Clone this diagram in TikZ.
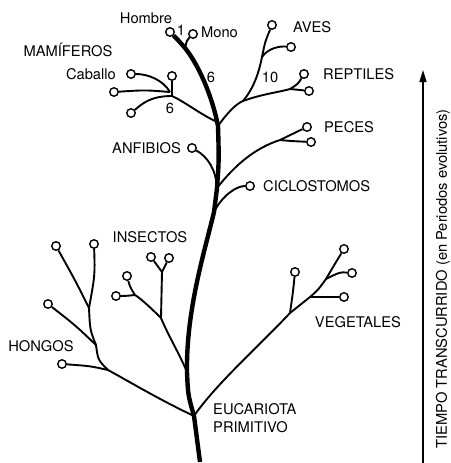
\documentclass[tikz,border=0pt]{standalone}
\usepackage{fontspec}
\setmainfont{TeX Gyre Heros}
\usepackage{tikz}
\usetikzlibrary{arrows.meta, positioning}

\tikzset{
  leaf/.style={circle, draw, fill=white, line width=1.4pt, inner sep=0pt, minimum size=8.5pt},
  branch/.style={line width=1.9pt},
  trunk/.style={line width=4.4pt, line join=round},
  lbl/.style={inner sep=0pt, font=\fontsize{14.7}{18}\selectfont},
}

\begin{document}
\begin{tikzpicture}[x=1pt, y=-1pt]
    \useasboundingbox (0,0) rectangle (450,463);

    % junctions
    \coordinate (base)  at (200,462);
    \coordinate (fE)    at (194,416);
    \coordinate (jIns)  at (187,372);
    \coordinate (jCic)  at (214,212);
    \coordinate (jPec)  at (217,188);
    \coordinate (fM)    at (218,126);
    \coordinate (jMam)  at (217,122);
    \coordinate (jMono) at (185,48);
    \coordinate (mA)    at (172,96);
    \coordinate (mB)    at (170,92);
    \coordinate (bR)    at (243,101);
    \coordinate (bA)    at (262,57);
    \coordinate (rJ)    at (290,89);
    \coordinate (pJ)    at (280,140);
    \coordinate (insA)  at (161,318);
    \coordinate (insB)  at (162,272);
    \coordinate (insC)  at (135,295);
    \coordinate (honA)  at (108,370);
    \coordinate (honB)  at (96,345);
    \coordinate (honC)  at (89,308);
    \coordinate (vegA)  at (290,313);
    \coordinate (vegB)  at (310,297);
    \coordinate (vegC)  at (326,279);

    % leaves
    \node[leaf] (hombre) at (170,32) {};
    \node[leaf] (mono)   at (193,34) {};
    \node[leaf] (aves1)  at (272,25) {};
    \node[leaf] (aves2)  at (291,47) {};
    \node[leaf] (rep1)   at (304,74) {};
    \node[leaf] (rep2)   at (309,91) {};
    \node[leaf] (mam1)   at (131,74) {};
    \node[leaf] (mam2)   at (114,92) {};
    \node[leaf] (mam3)   at (172,76) {};
    \node[leaf] (mam4)   at (131,113) {};
    \node[leaf] (anf)    at (192,148) {};
    \node[leaf] (pec1)   at (307,127) {};
    \node[leaf] (pec2)   at (311,142) {};
    \node[leaf] (cic)    at (250,186) {};
    \node[leaf] (ins1)   at (151,257) {};
    \node[leaf] (ins2)   at (169,258) {};
    \node[leaf] (ins3)   at (127,276) {};
    \node[leaf] (ins4)   at (116,296) {};
    \node[leaf] (hon1)   at (56,246) {};
    \node[leaf] (hon2)   at (94,244) {};
    \node[leaf] (hon3)   at (48,304) {};
    \node[leaf] (hon4)   at (62,364) {};
    \node[leaf] (veg1)   at (344,249) {};
    \node[leaf] (veg2)   at (352,273) {};
    \node[leaf] (veg3)   at (344,297) {};
    \node[leaf] (veg4)   at (295,272) {};

    % trunk
    \draw[trunk] (base) -- (fE)
        .. controls (188,395) .. (jIns)
        .. controls (186,310) and (205,250) .. (jCic)
        .. controls (216,200) .. (jPec)
        .. controls (219,160) .. (fM)
        .. controls (212,95) and (198,64) .. (jMono)
        .. controls (178,40) .. (hombre);
    \draw[branch] (jMono) .. controls (187,40) .. (mono);

    % mamiferos
    \draw[branch] (jMam) .. controls (200,114) and (185,102) .. (mA);
    \draw[branch] (mA) -- (mam3);
    \draw[branch] (mB) .. controls (163,80) and (148,74) .. (mam1);
    \draw[branch] (mB) .. controls (145,90) .. (mam2);
    \draw[branch] (mA) .. controls (150,96) and (142,104) .. (mam4);

    % aves, reptiles
    \draw[branch] (fM) .. controls (228,112) and (236,104) .. (bR)
        .. controls (262,94) and (280,92) .. (rJ);
    \draw[branch] (rJ) .. controls (298,84) .. (rep1);
    \draw[branch] (rJ) .. controls (300,90) .. (rep2);
    \draw[branch] (bR) .. controls (254,88) and (259,72) .. (bA)
        .. controls (265,42) .. (aves1);
    \draw[branch] (bA) .. controls (268,48) and (280,46) .. (aves2);

    % peces, anfibios, ciclostomos
    \draw[branch] (jPec) .. controls (235,165) and (255,148) .. (pJ)
        .. controls (292,134) .. (pec1);
    \draw[branch] (pJ) .. controls (290,141) .. (pec2);
    \draw[branch] (jPec) .. controls (216,170) and (208,157) .. (anf);
    \draw[branch] (jCic) .. controls (222,196) and (236,186) .. (cic);

    % insectos
    \draw[branch] (jIns) .. controls (180,355) and (168,335) .. (insA);
    \draw[branch] (insA) .. controls (162,295) .. (insB);
    \draw[branch] (insB) -- (ins1);
    \draw[branch] (insB) -- (ins2);
    \draw[branch] (insA) .. controls (150,307) and (140,298) .. (insC);
    \draw[branch] (insC) .. controls (130,287) .. (ins3);
    \draw[branch] (insC) .. controls (125,296) .. (ins4);

    % hongos
    \draw[branch] (fE) .. controls (160,400) and (130,382) .. (honA);
    \draw[branch] (honA) .. controls (90,366) .. (hon4);
    \draw[branch] (honA) .. controls (98,360) .. (honB);
    \draw[branch] (honB) .. controls (75,325) .. (hon3);
    \draw[branch] (honB) .. controls (90,330) .. (honC);
    \draw[branch] (honC) .. controls (75,280) .. (hon1);
    \draw[branch] (honC) .. controls (95,275) .. (hon2);

    % vegetales
    \draw[branch] (fE) .. controls (215,385) and (260,345) .. (vegA) -- (vegB)
        .. controls (318,290) .. (vegC) .. controls (336,262) .. (veg1);
    \draw[branch] (vegA) .. controls (293,292) .. (veg4);
    \draw[branch] (vegB) -- (veg3);
    \draw[branch] (vegC) .. controls (340,272) .. (veg2);

    % labels
    \node[lbl] (lHombre) at (146,18) {Hombre};
    \node[lbl] (lUno) at (181,30) {1};
    \node[lbl, right=3pt of mono, yshift=2pt] (lMono) {Mono};
    \node[lbl] (lSeisA) at (211,77) {6};
    \node[lbl] (lDiez) at (270,77) {10};
    \node[lbl] (lSeisB) at (170,108) {6};
    \node[lbl, right=16pt of aves1, yshift=-2pt] (lAves) {AVES};
    \node[lbl, right=14pt of rep1] (lRep) {REPTILES};
    \node[lbl] (lMam) at (68,50) {MAMÍFEROS};
    \node[lbl, left=10pt of mam1] (lCab) {Caballo};
    \node[lbl, right=12pt of pec1] (lPec) {PECES};
    \node[lbl, left=6pt of anf] (lAnf) {ANFIBIOS};
    \node[lbl, right=8pt of cic] (lCic) {CICLOSTOMOS};
    \node[lbl] (lIns) at (150,237) {INSECTOS};
    \node[lbl] (lHon) at (41,346) {HONGOS};
    \node[lbl] (lVeg) at (358,322) {VEGETALES};
    \node[lbl, anchor=west, align=left] (lEuc) at (213,418) {EUCARIOTA\\PRIMITIVO};

    % eje del tiempo
    \coordinate (tBot) at (423,463);
    \coordinate (tTop) at (423,70);
    \draw[line width=1.3pt, -{Triangle[length=12pt,width=7pt]}] (tBot) -- (tTop);
    \node[lbl, rotate=90] (lTiempo) at (443,279) {TIEMPO TRANSCURRIDO (en Periodos evolutivos)};
\end{tikzpicture}
\end{document}
